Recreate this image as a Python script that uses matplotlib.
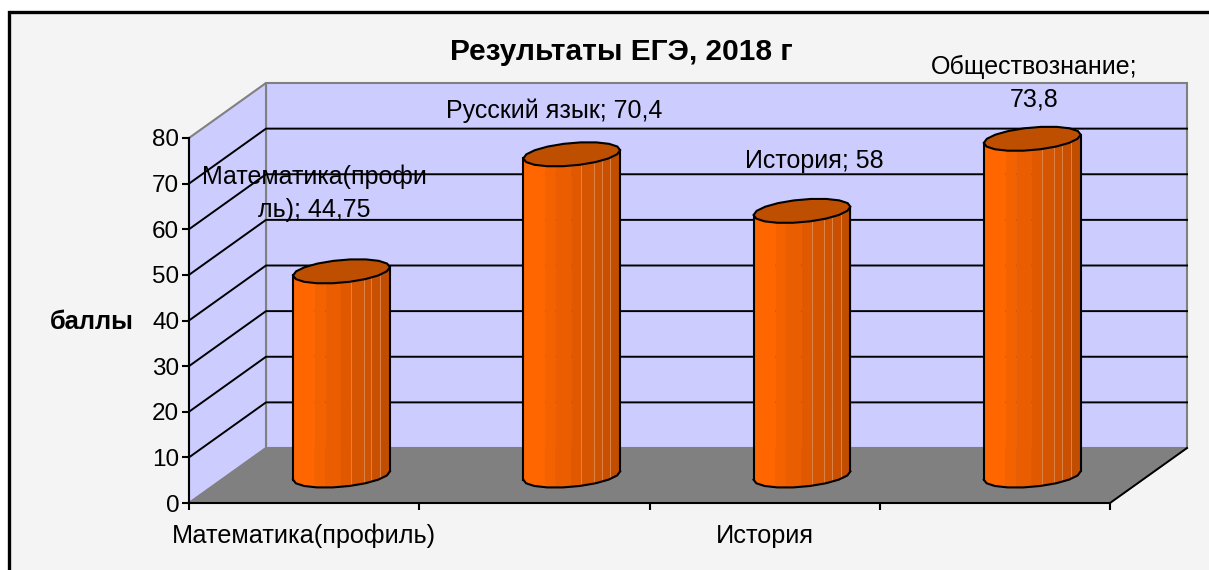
import numpy as np
import matplotlib
matplotlib.use('Agg')
import matplotlib.pyplot as plt
from matplotlib.patches import Polygon, Rectangle

categories = ['Математика(профиль)', 'Русский язык', 'История', 'Обществознание']
values = [44.75, 70.4, 58, 73.8]
shown_labels = ['Математика(профиль)', '', 'История', '']
point_labels = ['Математика(профи\nль); 44,75', 'Русский язык; 70,4', 'История; 58', 'Обществознание;\n73,8']
label_px = [(314, 193), (554, 111), (814, 161), (1034, 83)]
y_ticks = [0, 10, 20, 30, 40, 50, 60, 70, 80]

W, H = 1209, 570
# front plane of the 3d box, in pixels
L, R, T, B = 189, 1110, 138, 503
# depth vector in data units (77 px right, 55 px up)
DX = 77 / (R - L) * 4
DY = 55 / (B - T) * 80

# strip edges across the column and their colours
strip_edges = [0, 0.22, 0.33, 0.49, 0.60, 0.73, 0.81, 0.90, 1]
strip_colors = ['#ff6600', '#f46200', '#ea5d00', '#e05900', '#d65500', '#cf5300', '#c85000', '#c04d00']

plt.rcParams['font.family'] = ['Liberation Sans', 'DejaVu Sans']
fig = plt.figure(figsize=(W / 100, H / 100), dpi=100, facecolor='white')
fig.add_artist(Rectangle((8.5 / W, -0.1), 1.1, 1 - 12.5 / H + 0.1, transform=fig.transFigure,
                         facecolor='#f4f4f4', edgecolor='black', linewidth=2.4, zorder=-1))

ax = fig.add_axes([L / W, 1 - B / H, (R - L) / W, (B - T) / H])
ax.set_xlim(0, 4)
ax.set_ylim(0, 80)
ax.patch.set_visible(False)
for s in ['top', 'right']:
    ax.spines[s].set_visible(False)
for s in ['left', 'bottom']:
    ax.spines[s].set_linewidth(1.5)
    ax.spines[s].set_zorder(8)


def prj(x, y, d):
    return x + d * DX, y + d * DY


# walls and floor
ax.add_patch(Polygon([prj(0, 0, 1), prj(4, 0, 1), prj(4, 80, 1), prj(0, 80, 1)], closed=True,
                     facecolor='#ccccff', edgecolor='#808080', linewidth=1.5, clip_on=False, zorder=1))
ax.add_patch(Polygon([prj(0, 0, 0), prj(0, 0, 1), prj(0, 80, 1), prj(0, 80, 0)], closed=True,
                     facecolor='#ccccff', edgecolor='#808080', linewidth=1.5, clip_on=False, zorder=1))
ax.add_patch(Polygon([prj(0, 0, 0), prj(4, 0, 0), prj(4, 0, 1), prj(0, 0, 1)], closed=True,
                     facecolor='#808080', edgecolor='#808080', linewidth=1, clip_on=False, zorder=2))
for v in y_ticks[1:-1]:
    xs, ys = zip(prj(0, v, 0), prj(0, v, 1), prj(4, v, 1))
    ax.plot(xs, ys, color='black', linewidth=1.4, clip_on=False, zorder=3)
xs, ys = zip(prj(4, 0, 0), prj(4, 0, 1))
ax.plot(xs, ys, color='black', linewidth=1.4, clip_on=False, zorder=3)

# columns, the rim is a coarse polygon like in the original
a, r = 0.197, 0.22
t = np.radians(np.arange(0, 360, 20.0))
for i, v in enumerate(values):
    cx = i + 0.5 - 0.005
    ex = cx + a * np.cos(t) + r * DX * np.sin(t)
    ey = r * DY * np.sin(t)
    c0x, c0y = prj(cx, 0, 0.5)
    ex = ex + 0.5 * DX
    left = np.argmin(ex)
    right = np.argmax(ex)
    # front half of the rim goes from the leftmost point round the low side
    idx = np.arange(left, left + len(t)) % len(t)
    idx = idx[:np.where(idx == right)[0][0] + 1]
    fx = ex[idx]
    fy = ey[idx]
    order = np.argsort(fx)
    fx, fy = fx[order], fy[order]
    x0, x1 = fx[0], fx[-1]
    edges = [x0 + e * (x1 - x0) for e in strip_edges]
    for k, col in enumerate(strip_colors):
        xx = np.linspace(edges[k], edges[k + 1], 20)
        low = np.interp(xx, fx, fy) + c0y
        ax.fill_between(xx, low, low + v, color=col, linewidth=0.3, zorder=4, clip_on=False)
    for e in edges[4:-1]:
        yb = np.interp(e, fx, fy) + c0y
        ax.plot([e, e], [yb, yb + v], color='#e08a50', linewidth=0.6, zorder=4, clip_on=False)
    ax.plot(fx, np.array(fy) + c0y, color='black', linewidth=1.5, zorder=5, clip_on=False)
    ax.plot([x0, x0], [fy[0] + c0y, fy[0] + c0y + v], color='black', linewidth=1.5, zorder=5, clip_on=False)
    ax.plot([x1, x1], [fy[-1] + c0y, fy[-1] + c0y + v], color='black', linewidth=1.5, zorder=5, clip_on=False)
    ax.add_patch(Polygon(np.column_stack([ex, ey + c0y + v]), closed=True, facecolor='#bf4f00',
                         edgecolor='black', linewidth=1.5, clip_on=False, zorder=6))

# axes ticks and labels
ax.set_yticks(y_ticks)
ax.tick_params(axis='y', labelsize=17.5, length=5, width=1.5, pad=2, labelcolor='black')
ax.set_xticks([0, 1, 2, 3, 4])
ax.set_xticklabels([])
ax.tick_params(axis='x', which='major', length=5, width=1.5)
ax.set_xticks([0.5, 1.5, 2.5, 3.5], minor=True)
ticklabs = ax.set_xticklabels(shown_labels, minor=True, fontsize=18.2)
ticklabs[0].set_x(0.48)
ax.tick_params(axis='x', which='minor', length=0, pad=15)

fig.text(621 / W, 1 - 52 / H, 'Результаты ЕГЭ, 2018 г', fontsize=21.5, fontweight='bold', ha='center', va='center')
fig.text(91.5 / W, 1 - 322 / H, 'баллы', fontsize=18.4, fontweight='bold', ha='center', va='center')
for txt, (px, py) in zip(point_labels, label_px):
    fig.text(px / W, 1 - py / H, txt, fontsize=18, ha='center', va='center', linespacing=1.45, zorder=9)

fig.savefig('out.png', dpi=100, facecolor=fig.get_facecolor())
